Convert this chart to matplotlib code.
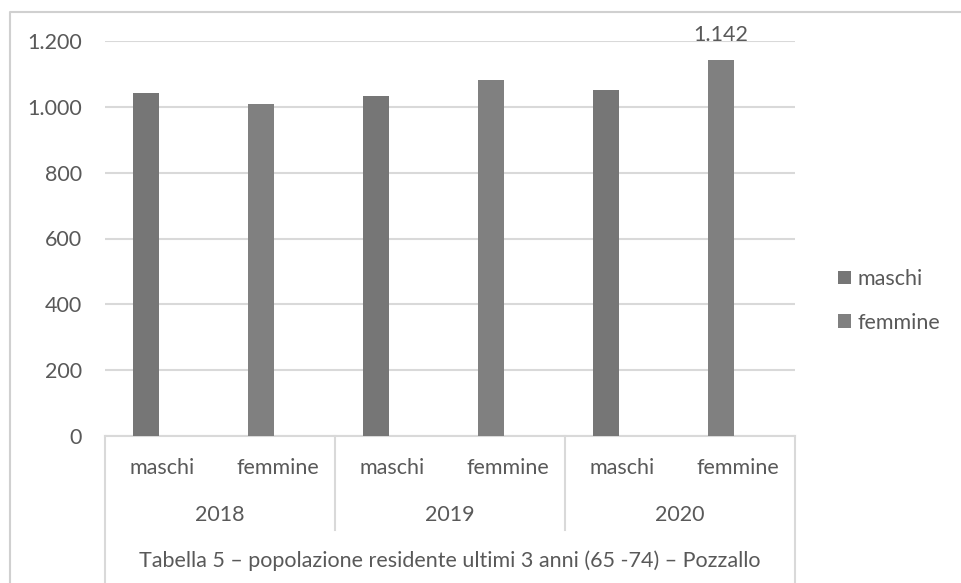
import matplotlib
matplotlib.use("Agg")
import matplotlib.pyplot as plt
from matplotlib.patches import Patch
from matplotlib.lines import Line2D
import matplotlib.transforms as mtransforms

plt.rcParams['font.family'] = ['Lato', 'DejaVu Sans']

years = ["2018", "2019", "2020"]
sexes = ["maschi", "femmine"]
maschi = [1042, 1033, 1052]
femmine = [1010, 1083, 1142]
yticks = [0, 200, 400, 600, 800, 1000, 1200]
ytick_labels = ["0", "200", "400", "600", "800", "1.000", "1.200"]
title = "Tabella 5 \u2013 popolazione residente ultimi 3 anni (65 -74) \u2013 Pozzallo"

col_m = "#767676"
col_f = "#808080"
txt = "#595959"
grid = "#d9d9d9"
fs = 15.5

W, H = 962, 583
fig = plt.figure(figsize=(W/100, H/100), dpi=100)
fig.lines.append(Line2D([10/W, 10/W, 1], [0, 1-12/H, 1-12/H], transform=fig.transFigure,
                        color="#d0d0d0", linewidth=1.5))
x0, x1, y0, y1 = 105, 795, 436, 41
ax = fig.add_axes([x0/W, 1-y0/H, (x1-x0)/W, (y0-y1)/H])

shift = -0.145
pos_m = [2*i + shift for i in range(len(years))]
pos_f = [2*i + 1 + shift for i in range(len(years))]
bw = 0.226
ax.bar(pos_m, maschi, width=bw, color=col_m, zorder=3)
ax.bar(pos_f, femmine, width=bw, color=col_f, zorder=3)

ax.set_xlim(-0.5, 2*len(years)-0.5)
ax.set_ylim(0, 1200)
ax.set_yticks(yticks)
ax.set_yticklabels(ytick_labels, fontsize=fs, color=txt)
ax.tick_params(axis='y', length=0, pad=16.5)
ax.set_xticks([])
ax.yaxis.grid(True, color=grid, linewidth=1.5, zorder=0)
for s in ['top', 'right', 'left']:
    ax.spines[s].set_visible(False)
ax.spines['bottom'].set_color(grid)
ax.spines['bottom'].set_linewidth(1.5)

tr = mtransforms.blended_transform_factory(ax.transData, ax.transAxes)
ppx = y0 - y1
def fy(py):
    return (y0 - py) / ppx

n = 2*len(years)
for k in range(len(years)+1):
    xs = 2*k - 0.5
    bottom = fy(583) if k in (0, len(years)) else fy(530)
    ax.plot([xs, xs], [0, bottom], transform=tr, color=grid, linewidth=1.5, clip_on=False)

for i in range(n):
    ax.text(i, fy(468), sexes[i % 2], transform=tr, ha='center', va='center', fontsize=fs, color=txt)
for j, yr in enumerate(years):
    ax.text(2*j + 0.5, fy(515), yr, transform=tr, ha='center', va='center', fontsize=fs, color=txt)
ax.text((n-1)/2, fy(561), title, transform=tr, ha='center', va='center', fontsize=fs, color=txt)

ax.annotate("1.142", xy=(pos_f[-1], femmine[-1]), xytext=(0, 18), textcoords='offset points',
            ha='center', va='center', fontsize=fs, color=txt)

handles = [Patch(facecolor=col_m, edgecolor='none'), Patch(facecolor=col_f, edgecolor='none')]
fig.legend(handles, sexes, loc='center left', bbox_to_anchor=(838/W, 1-301/H), frameon=False,
           borderpad=0, borderaxespad=0,
           handlelength=0.6, handleheight=0.6, handletextpad=0.3, labelspacing=1.1,
           prop={'size': fs}, labelcolor=txt)

fig.savefig("out.png", dpi=100)
